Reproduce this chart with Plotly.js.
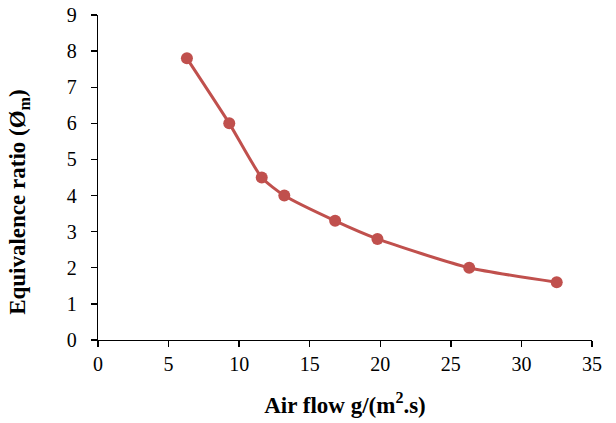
<!DOCTYPE html>
<html>
<head>
<meta charset="utf-8">
<script src="https://cdn.plot.ly/plotly-3.0.1.min.js"></script>
<style>html,body{margin:0;padding:0;background:#fff;}#chart{width:616px;height:423px;}</style>
</head>
<body>
<div id="chart"></div>
<script>
const airFlow = [6.3, 9.3, 11.6, 13.2, 16.8, 19.8, 26.3, 32.5];
const equivalenceRatio = [7.8, 6.0, 4.5, 4.0, 3.3, 2.8, 2.0, 1.6];
const xTickValues = [0, 5, 10, 15, 20, 25, 30, 35];
const yTickValues = [0, 1, 2, 3, 4, 5, 6, 7, 8, 9];
const xTitle = '<b>Air flow g/(m<sup>2</sup>.s)</b>';
const yTitle = '<b>Equivalence ratio (Ø<sub>m</sub>)</b>';

const FONT = "Liberation Serif, Times New Roman, serif";
const trace = {
  x: airFlow,
  y: equivalenceRatio,
  type: 'scatter',
  mode: 'lines+markers',
  line: {color: '#C0504D', width: 3, shape: 'spline', smoothing: 0.6},
  marker: {color: '#C0504D', size: 12},
  showlegend: false,
  hoverinfo: 'x+y'
};
const layout = {
  width: 616, height: 423,
  margin: {l: 98, r: 24, t: 15, b: 83},
  paper_bgcolor: '#ffffff', plot_bgcolor: '#ffffff',
  font: {family: FONT, color: '#000', size: 20},
  xaxis: {
    range: [0, 35], tickvals: xTickValues, showgrid: false, zeroline: false,
    showline: true, linecolor: '#000', linewidth: 1.3,
    ticks: 'outside', ticklen: 6, tickcolor: '#000', tickwidth: 1.3,
    tickfont: {family: FONT, size: 20, color: '#000'},
    title: {text: xTitle, font: {family: FONT, size: 23, color: '#000'}, standoff: 22}
  },
  yaxis: {
    range: [0, 9], tickvals: yTickValues, showgrid: false, zeroline: false,
    showline: true, linecolor: '#000', linewidth: 1.3,
    ticks: 'outside', ticklen: 6, tickcolor: '#000', tickwidth: 1.3,
    tickfont: {family: FONT, size: 20, color: '#000'},
    ticklabelstandoff: 10
  },
  annotations: [{
    text: yTitle, textangle: -90, showarrow: false,
    xref: 'paper', yref: 'paper', x: -0.16, y: 0.425,
    xanchor: 'center', yanchor: 'middle',
    font: {family: FONT, size: 23, color: '#000'}
  }]
};
Plotly.newPlot('chart', [trace], layout, {displayModeBar: false, staticPlot: true});
</script>
</body>
</html>
